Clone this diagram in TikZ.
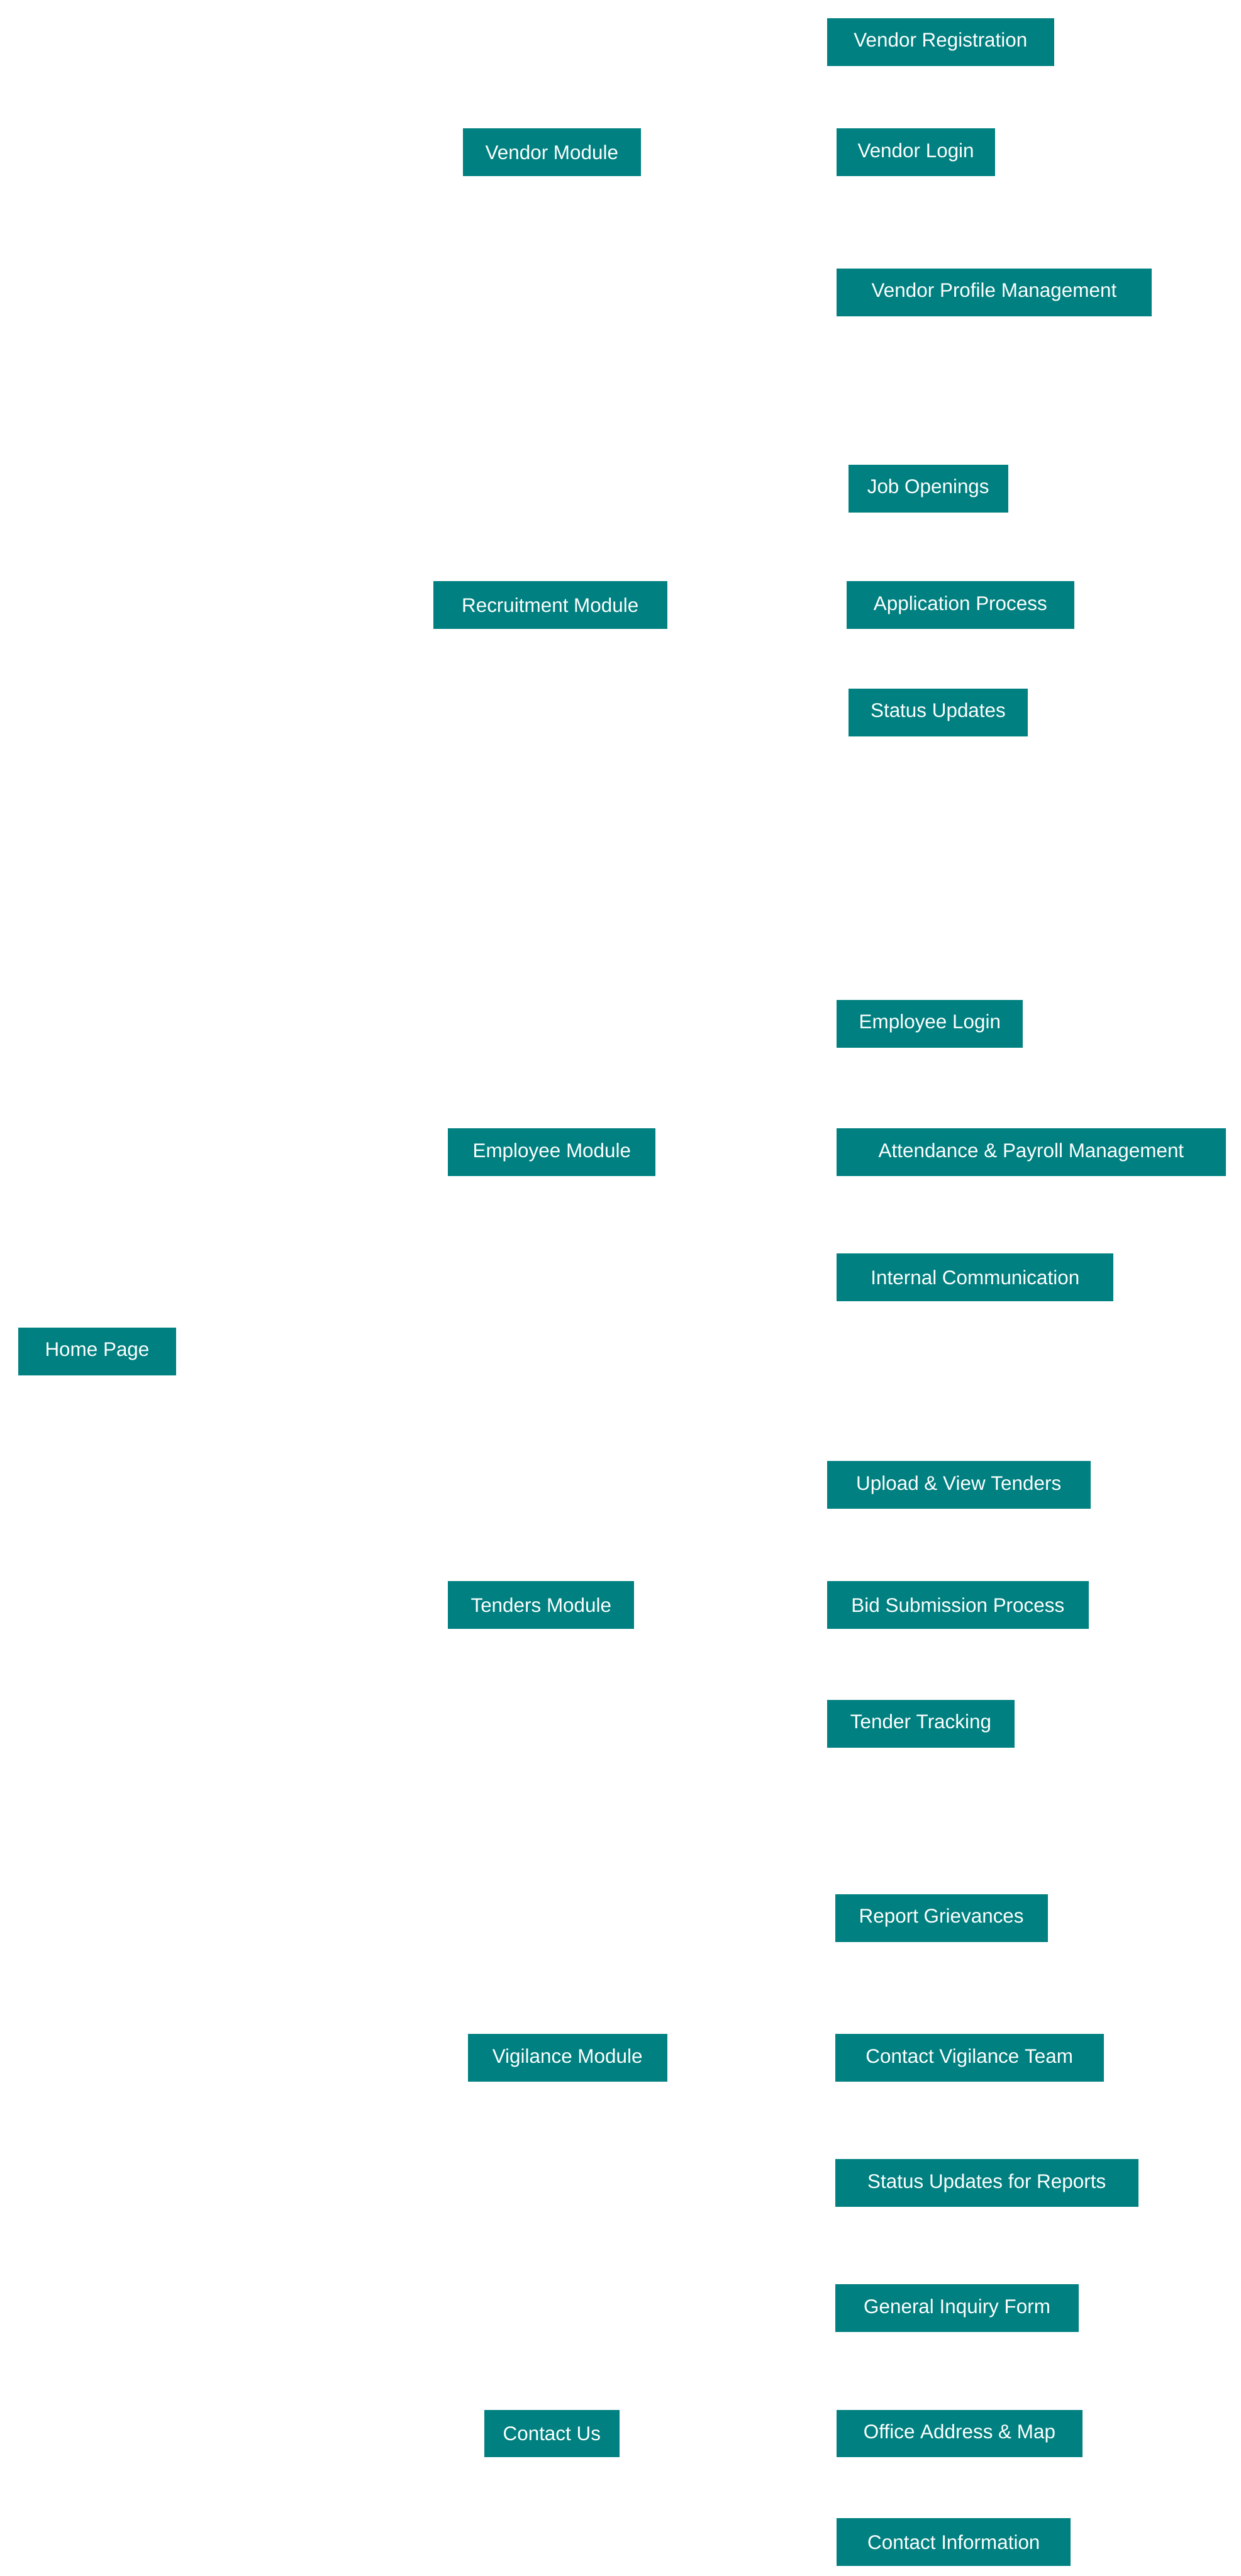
\documentclass[tikz,border=0pt]{standalone}
\usepackage{fontspec}
\setmainfont{Liberation Sans}
\usepackage{xcolor}
\definecolor{tealbox}{HTML}{008080}
\begin{document}
\begin{tikzpicture}
             %% setup
             [
                 x=1pt, y=-1pt,
                 modulebox/.style={rectangle, fill=tealbox, text=white, font=\fontsize{12}{14}\selectfont, minimum height=29pt, inner sep=0pt},
             ]
                 \useasboundingbox (0,0) rectangle (753,1564);

                 %% Nodes
                 \node [modulebox, minimum width=96pt] (home) at (59,820.5) {Home Page};

                 \node [modulebox, minimum width=108pt] (vendor) at (335,92.5) {Vendor Module};
                 \node [modulebox, minimum width=142pt] (recruit) at (334,367.5) {Recruitment Module};
                 \node [modulebox, minimum width=126pt] (employee) at (335,699.5) {Employee Module};
                 \node [modulebox, minimum width=113pt] (tenders) at (328.5,974.5) {Tenders Module};
                 \node [modulebox, minimum width=121pt] (vigilance) at (344.5,1249.5) {Vigilance Module};
                 \node [modulebox, minimum width=82pt] (contact) at (335,1477.5) {Contact Us};

                 \node [modulebox, minimum width=138pt] (vendorreg) at (571,25.5) {Vendor Registration};
                 \node [modulebox, minimum width=96pt] (vendorlogin) at (556,92.5) {Vendor Login};
                 \node [modulebox, minimum width=191pt] (vendorprofile) at (603.5,177.5) {Vendor Profile Management};

                 \node [modulebox, minimum width=97pt] (jobs) at (563.5,296.5) {Job Openings};
                 \node [modulebox, minimum width=138pt] (application) at (583,367.5) {Application Process};
                 \node [modulebox, minimum width=109pt] (status) at (569.5,432.5) {Status Updates};

                 \node [modulebox, minimum width=113pt] (emplogin) at (564.5,621.5) {Employee Login};
                 \node [modulebox, minimum width=236pt] (payroll) at (626,699.5) {Attendance \& Payroll Management};
                 \node [modulebox, minimum width=168pt] (internal) at (592,775.5) {Internal Communication};

                 \node [modulebox, minimum width=160pt] (upload) at (582,901.5) {Upload \& View Tenders};
                 \node [modulebox, minimum width=159pt] (bid) at (581.5,974.5) {Bid Submission Process};
                 \node [modulebox, minimum width=114pt] (tracking) at (559,1046.5) {Tender Tracking};

                 \node [modulebox, minimum width=129pt] (grievances) at (571.5,1164.5) {Report Grievances};
                 \node [modulebox, minimum width=163pt] (vigteam) at (588.5,1249.5) {Contact Vigilance Team};
                 \node [modulebox, minimum width=184pt] (reports) at (599,1325.5) {Status Updates for Reports};

                 \node [modulebox, minimum width=148pt] (inquiry) at (581,1401.5) {General Inquiry Form};
                 \node [modulebox, minimum width=149pt] (address) at (582.5,1477.5) {Office Address \& Map};
                 \node [modulebox, minimum width=142pt] (contactinfo) at (579,1543.5) {Contact Information};
        \end{tikzpicture}
\end{document}
